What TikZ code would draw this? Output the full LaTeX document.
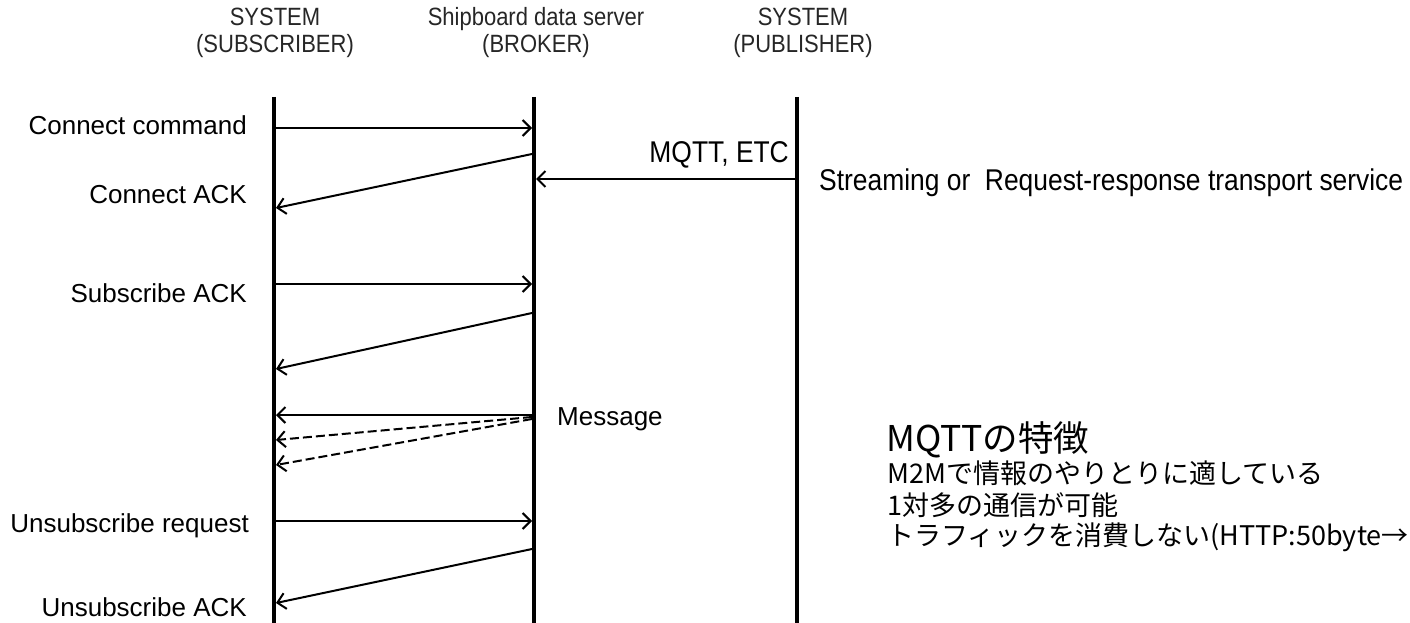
\documentclass[tikz,border=0pt]{standalone}
\usepackage{fontspec}
\setmainfont{Liberation Sans}
\newfontfamily\narrowf[FakeStretch=0.88]{Liberation Sans}
\newfontfamily\jpf{Noto Sans CJK JP}
\usetikzlibrary{arrows.meta}
\begin{document}
\begin{tikzpicture}[x=1pt,y=-1pt,
  lifeline/.style={line width=4.5pt},
  msg/.style={line width=2pt,-{Straight Barb[length=8pt,width=16pt,line width=2pt]}},
  dmsg/.style={msg,dash pattern=on 9pt off 4pt},
  hdr/.style={inner sep=0pt,align=center,font=\narrowf\fontsize{25}{27}\selectfont,text=black!85},
  lbl/.style={inner sep=0pt,anchor=east,font=\fontsize{26}{30}\selectfont},
  nlbl/.style={inner sep=0pt,font=\narrowf\fontsize{30}{32}\selectfont},
  jptitle/.style={inner sep=0pt,anchor=west,font=\jpf\fontsize{35.5}{40}\selectfont},
  jptext/.style={inner sep=0pt,anchor=west,font=\jpf\fontsize{27}{30}\selectfont}]
\useasboundingbox (0,0) rectangle (1410,623);
% headers
\node[hdr] (hs) at (275,33) {SYSTEM\\(SUBSCRIBER)};
\node[hdr] (hb) at (536,33) {Shipboard data server\\(BROKER)};
\node[hdr] (hp) at (803,33) {SYSTEM\\(PUBLISHER)};
% lifelines
\coordinate (s0) at (274,97); \coordinate (s1) at (274,623);
\coordinate (b0) at (534,97); \coordinate (b1) at (534,623);
\coordinate (p0) at (797,97); \coordinate (p1) at (797,623);
\draw[lifeline] (s0) -- (s1);
\draw[lifeline] (b0) -- (b1);
\draw[lifeline] (p0) -- (p1);
% message end points
\coordinate (sA) at (276,128); \coordinate (bA) at (532,128);
\coordinate (bB) at (532,154); \coordinate (sB) at (276,208);
\coordinate (pC) at (795,179); \coordinate (bC) at (536,179);
\coordinate (sD) at (276,284); \coordinate (bD) at (532,284);
\coordinate (bE) at (532,313); \coordinate (sE) at (276,369);
\coordinate (bF) at (532,415); \coordinate (sF) at (276,415);
\coordinate (bG) at (532,417); \coordinate (sG) at (276,440);
\coordinate (bH) at (532,419); \coordinate (sH) at (276,465);
\coordinate (sI) at (276,521); \coordinate (bI) at (532,521);
\coordinate (bJ) at (532,549); \coordinate (sJ) at (276,603);
\draw[msg] (sA) -- (bA);
\draw[msg] (bB) -- (sB);
\draw[msg] (pC) -- (bC);
\draw[msg] (sD) -- (bD);
\draw[msg] (bE) -- (sE);
\draw[msg] (bF) -- (sF);
\draw[dmsg] (bG) -- (sG);
\draw[dmsg] (bH) -- (sH);
\draw[msg] (sI) -- (bI);
\draw[msg] (bJ) -- (sJ);
% labels
\node[lbl] (l1) at (247,125) {Connect command};
\node[lbl] (l2) at (247,195) {Connect ACK};
\node[lbl] (l3) at (247,293) {Subscribe ACK};
\node[lbl] (l4) at (249,526) {Unsubscribe request};
\node[lbl] (l5) at (247,607) {Unsubscribe ACK};
\node[nlbl,anchor=east] (mq) at (789,155) {MQTT, ETC};
\node[nlbl,anchor=west] (st) at (819,183) {Streaming or\ \ Request-response transport service};
\node[inner sep=0pt,anchor=west,font=\fontsize{26}{30}\selectfont] (ms) at (557,419) {Message};
% Japanese notes
\node[jptitle] (t0) at (886,440) {MQTTの特徴};
\node[jptext] (t1) at (887,473) {M2Mで情報のやりとりに適している};
\node[jptext] (t2) at (887,505) {1対多の通信が可能};
\node[jptext] (t3) at (887,537) {トラフィックを消費しない(HTTP:50byte→};
\end{tikzpicture}
\end{document}
